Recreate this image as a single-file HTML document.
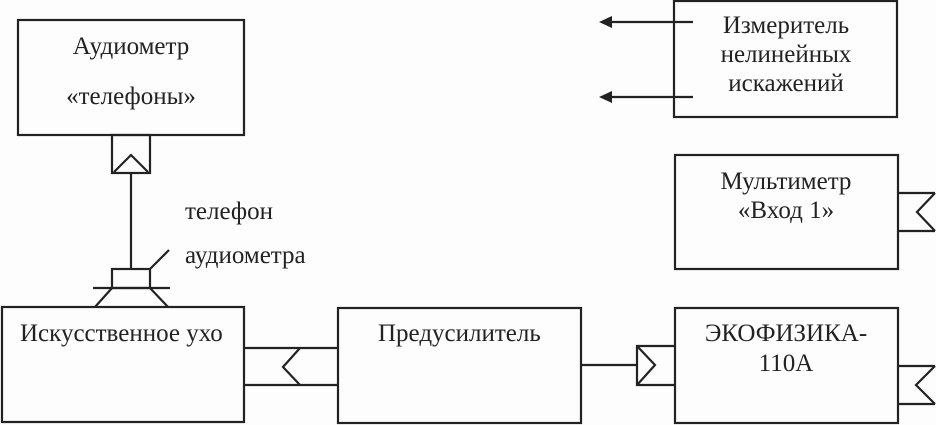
<!DOCTYPE html>
<html><head><meta charset="utf-8"><style>
html,body{margin:0;padding:0;background:#fdfdfd;}
svg{display:block}
text{font-family:"Liberation Serif","DejaVu Serif",serif;font-size:25px;fill:#222}
</style></head><body>
<svg width="936" height="425" viewBox="0 0 936 425" xmlns="http://www.w3.org/2000/svg">
<g fill="none" stroke="#222" stroke-width="2.2">
<rect x="18" y="20" width="226" height="115"/>
<rect x="112" y="135" width="38" height="38"/>
<polyline points="114,172 131,155 148,172"/>
<line x1="131" y1="173" x2="131" y2="269"/>
<rect x="112" y="269" width="38" height="19"/>
<line x1="150" y1="269" x2="169" y2="250"/>
<line x1="93" y1="288" x2="170" y2="288"/>
<line x1="112" y1="288" x2="95" y2="307"/>
<line x1="150" y1="288" x2="168" y2="307"/>
<rect x="2" y="307" width="242" height="115"/>
<line x1="244" y1="348" x2="338" y2="348"/>
<line x1="244" y1="385" x2="338" y2="385"/>
<polyline points="300,348 283,367 300,385"/>
<rect x="338" y="308" width="243" height="115"/>
<line x1="581" y1="365" x2="637" y2="365"/>
<polyline points="675,346 637,346 637,385 675,385"/>
<polyline points="637,346 655,365 637,385"/>
<rect x="675" y="308" width="223" height="115"/>
<polyline points="898,366 935,366"/>
<polyline points="898,404 935,404"/>
<polyline points="935,366 916,385 935,404"/>
<rect x="675" y="155" width="223" height="114"/>
<line x1="898" y1="193" x2="935" y2="193"/>
<line x1="898" y1="231" x2="935" y2="231"/>
<polyline points="935,193 917,212 935,231"/>
<rect x="674" y="1" width="223" height="116"/>
<line x1="693" y1="22" x2="610" y2="22"/>
<line x1="693" y1="97" x2="610" y2="97"/>
</g>
<polygon points="599,22 612,16 612,28" fill="#222"/>
<polygon points="599,97 612,91 612,103" fill="#222"/>
<text x="131" y="54" text-anchor="middle">Аудиометр</text>
<text x="131" y="104" text-anchor="middle">«телефоны»</text>
<text x="185" y="219">телефон</text>
<text x="185" y="263">аудиометра</text>
<text x="20" y="341">Искусственное ухо</text>
<text x="378" y="341">Предусилитель</text>
<text x="786" y="341" text-anchor="middle">ЭКОФИЗИКА-</text>
<text x="786" y="371" text-anchor="middle">110А</text>
<text x="786" y="189" text-anchor="middle">Мультиметр</text>
<text x="786" y="218" text-anchor="middle">«Вход 1»</text>
<text x="786" y="33" text-anchor="middle">Измеритель</text>
<text x="786" y="62" text-anchor="middle">нелинейных</text>
<text x="786" y="91" text-anchor="middle">искажений</text>
</svg>
</body></html>
